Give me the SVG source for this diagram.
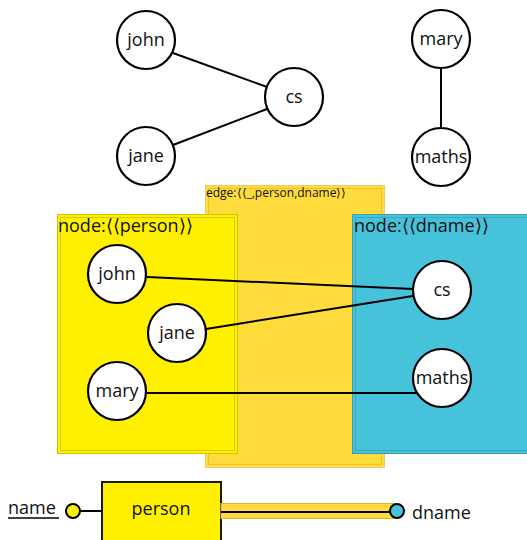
<svg xmlns="http://www.w3.org/2000/svg" width="527" height="540" viewBox="0 0 527 540">
<style>
text{font-family:"Open Sans","DejaVu Sans",sans-serif;fill:#111}
.n circle{fill:#fff;stroke:#000;stroke-width:2.2}
.n text{font-size:18px;text-anchor:middle}
.c line{stroke:#000;stroke-width:2}
.lbl{font-size:18px}
.br{font-family:"DejaVu Sans",sans-serif;font-weight:300}
</style>
<g id="edge-box">
<rect x="205.5" y="185.5" width="179" height="282" fill="#FFDC3C" stroke="#E8CD6A" stroke-width="1"/>
<rect x="208.5" y="188.5" width="173" height="276" fill="none" stroke="#E6C334" stroke-width="1"/>
<text x="206" y="197" font-size="12">edge:<tspan class="br">⟨⟨</tspan>_,person,dname<tspan class="br">⟩⟩</tspan></text>
</g>
<g id="person-box">
<rect x="57.5" y="214.5" width="180" height="239" fill="#FFF000" stroke="#CFC400" stroke-width="1"/>
<rect x="60.5" y="217.5" width="174" height="233" fill="none" stroke="#D6CC00" stroke-width="1"/>
<text class="lbl" x="58" y="232">node:<tspan class="br">⟨⟨</tspan>person<tspan class="br">⟩⟩</tspan></text>
</g>
<g id="dname-box">
<rect x="352.5" y="214.5" width="175" height="239" fill="#46C2DA" stroke="#3A9FB2" stroke-width="1"/>
<rect x="355.5" y="217.5" width="172" height="233" fill="none" stroke="#3BA8BC" stroke-width="1"/>
<text class="lbl" x="354" y="232">node:<tspan class="br">⟨⟨</tspan>dname<tspan class="br">⟩⟩</tspan></text>
</g>
<g id="connectors" class="c">
<line x1="173" y1="53" x2="267" y2="87"/>
<line x1="173" y1="145" x2="267" y2="109"/>
<line x1="441" y1="68" x2="441" y2="128"/>
<line x1="147" y1="277" x2="413" y2="289"/>
<line x1="206" y1="329" x2="413" y2="296"/>
<line x1="147" y1="393" x2="418" y2="393"/>
<line x1="80" y1="511" x2="102" y2="511"/>
</g>
<g id="n-john-top" class="n"><circle cx="146" cy="40" r="29"/><text x="146" y="46">john</text></g>
<g id="n-jane-top" class="n"><circle cx="146" cy="156" r="29"/><text x="146" y="162">jane</text></g>
<g id="n-cs-top" class="n"><circle cx="294" cy="97" r="29"/><text x="294" y="103">cs</text></g>
<g id="n-mary-top" class="n"><circle cx="441" cy="39" r="29"/><text x="441" y="45">mary</text></g>
<g id="n-maths-top" class="n"><circle cx="441" cy="157" r="29"/><text x="441" y="163">maths</text></g>
<g id="n-john" class="n"><circle cx="117" cy="274" r="29"/><text x="117" y="280">john</text></g>
<g id="n-jane" class="n"><circle cx="177" cy="333" r="29"/><text x="177" y="339">jane</text></g>
<g id="n-mary" class="n"><circle cx="117" cy="391" r="29"/><text x="117" y="397">mary</text></g>
<g id="n-cs" class="n"><circle cx="442" cy="290" r="29"/><text x="442" y="296">cs</text></g>
<g id="n-maths" class="n"><circle cx="442" cy="378" r="29"/><text x="442" y="384">maths</text></g>
<g id="er-person">
<rect x="102" y="482" width="119" height="62" fill="#FFF000" stroke="#1a1a00" stroke-width="2"/>
<text x="161" y="515" font-size="18" text-anchor="middle">person</text>
</g>
<g id="er-name">
<text x="8" y="514" font-size="18">name</text>
<line x1="8" y1="518" x2="59" y2="518" stroke="#000" stroke-width="1.5"/>
<circle cx="73" cy="511" r="7" fill="#FFF000" stroke="#000" stroke-width="2"/>
</g>
<g id="er-dname">
<rect x="221" y="503.5" width="174" height="15" fill="#FFDA3E" stroke="#D8B43A" stroke-width="1"/>
<line x1="221" y1="512" x2="392" y2="512" stroke="#000" stroke-width="2"/>
<circle cx="397" cy="511" r="7" fill="#46C2DA" stroke="#000" stroke-width="2"/>
<text x="412" y="519" font-size="18">dname</text>
</g>
</svg>
